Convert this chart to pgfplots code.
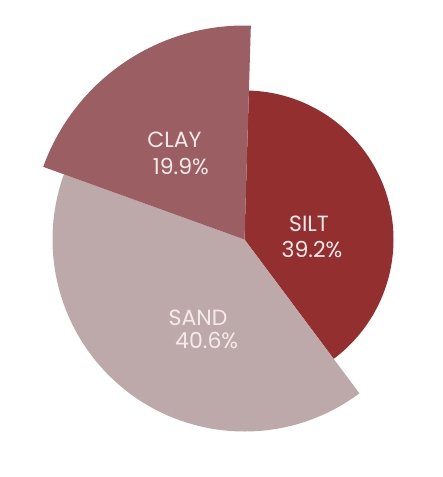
\documentclass[border=0pt]{standalone}
\usepackage{pgfplots}
\pgfplotsset{compat=1.18}
\usepackage{fontspec}
\setmainfont{Poppins}
\definecolor{siltc}{HTML}{93302F}
\definecolor{sandc}{HTML}{BEA9AA}
\definecolor{clayc}{HTML}{9B5E63}
\definecolor{txt}{HTML}{F5EAEA}
% data: percentage and drawn radius of each slice
\def\pSilt{39.2}\def\rSilt{149}
\def\pSand{40.6}\def\rSand{192}
\def\pClay{19.9}\def\rClay{214}
\def\startang{88.3}
\pgfmathsetmacro{\tot}{\pSilt+\pSand+\pClay}
\pgfmathsetmacro{\aA}{\startang}
\pgfmathsetmacro{\aB}{\aA-360*\pSilt/\tot}
\pgfmathsetmacro{\aC}{\aB-360*\pSand/\tot}
\pgfmathsetmacro{\aD}{\aC-360*\pClay/\tot}
\begin{document}
\begin{tikzpicture}
\begin{axis}[
  width=331.5pt, height=357.75pt, scale only axis,
  xmin=-244.5, xmax=197.5, ymin=-237.5, ymax=239.5,
  hide axis, clip=false,
]
\path (axis cs:-244.5,-237.5) rectangle (axis cs:197.5,239.5);
\fill[siltc] (axis cs:0,0) -- (axis cs:{\rSilt*cos(\aA)},{\rSilt*sin(\aA)}) arc[start angle=\aA, end angle=\aB, radius={\rSilt*0.75pt}] -- cycle;
\fill[sandc] (axis cs:0,0) -- (axis cs:{\rSand*cos(\aB)},{\rSand*sin(\aB)}) arc[start angle=\aB, end angle=\aC, radius={\rSand*0.75pt}] -- cycle;
\fill[clayc] (axis cs:0,0) -- (axis cs:{\rClay*cos(\aC)},{\rClay*sin(\aC)}) arc[start angle=\aC, end angle=\aD, radius={\rClay*0.75pt}] -- cycle;
\begin{scope}[every node/.style={text=txt, font=\fontsize{16.5}{19}\selectfont, anchor=base, inner sep=0pt}]
\node at (axis cs:-70,91.5) {CLAY};
\node at (axis cs:-63.7,64.5) {19.9\%};
\node at (axis cs:64.5,7.8) {SILT};
\node at (axis cs:67.5,-18.5) {39.2\%};
\node at (axis cs:-46.5,-86.5) {SAND};
\node at (axis cs:-37.8,-109.5) {40.6\%};
\end{scope}
\end{axis}
\end{tikzpicture}
\end{document}
